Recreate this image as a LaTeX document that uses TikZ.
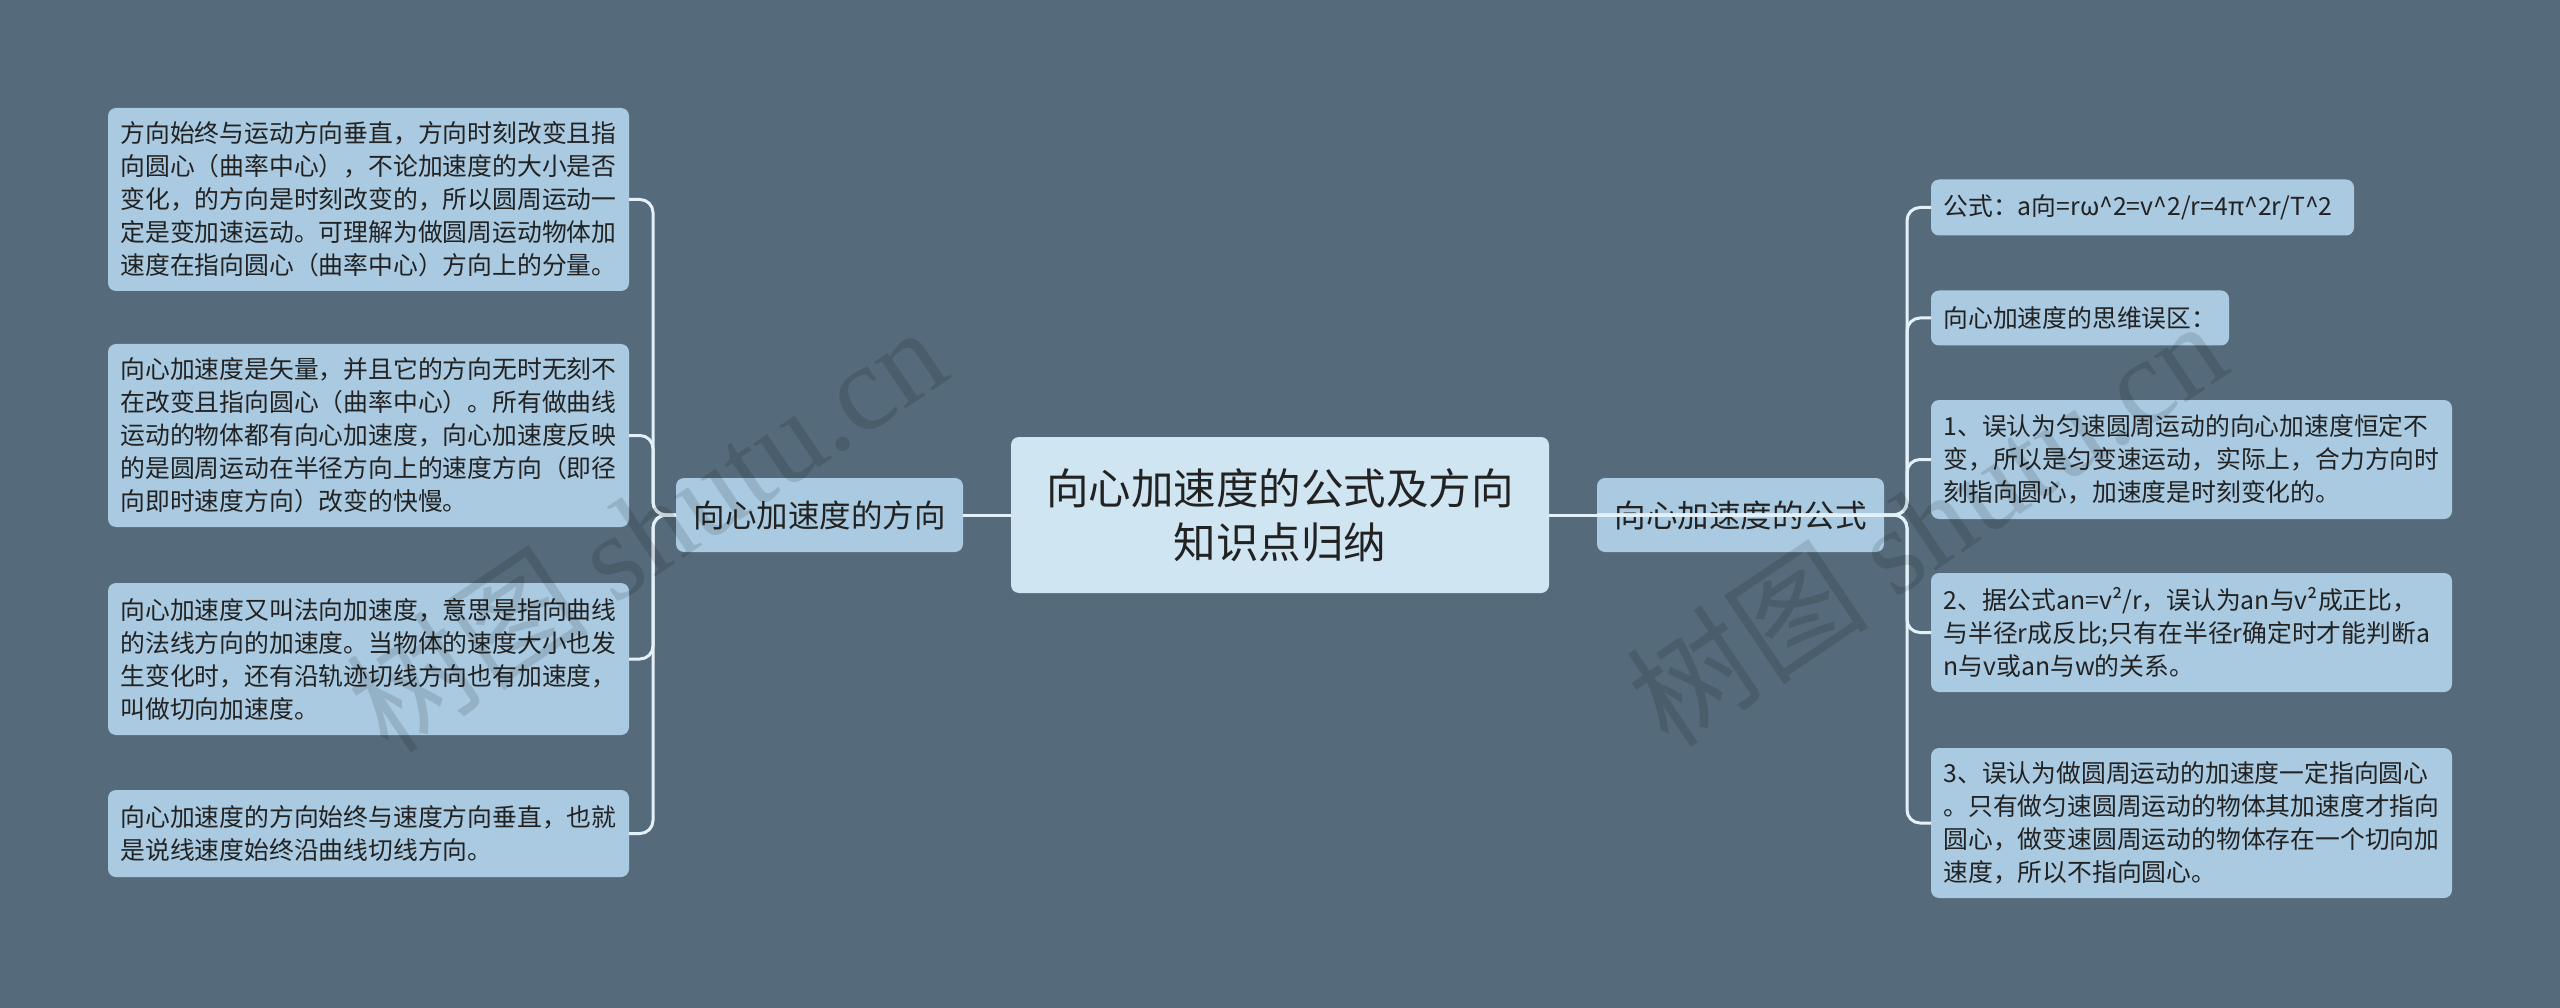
\documentclass[tikz,border=0pt]{standalone}
\usepackage{fontspec}
\setmainfont{Noto Sans CJK SC}
\newfontfamily\wmserif{Liberation Serif}
\definecolor{bgc}{HTML}{556A7A}
\definecolor{leafc}{HTML}{AACAE1}
\definecolor{centerc}{HTML}{CFE5F2}
\definecolor{linec}{HTML}{E4F1F8}
\definecolor{txtc}{HTML}{222222}
\begin{document}
\begin{tikzpicture}[x=1pt,y=-1pt,
  box/.style={rounded corners=8pt, outer sep=0pt, text=txtc},
  leaf/.style={box, fill=leafc, inner xsep=12.5pt, inner ysep=0pt, align=left, anchor=west, font=\fontsize{24.8}{33}\selectfont},
  mainbox/.style={box, fill=centerc, align=center, inner sep=0pt, minimum width=538pt, minimum height=156pt, font=\fontsize{42.5}{54}\selectfont},
  lvl/.style={box, fill=leafc, inner sep=0pt, minimum width=287pt, minimum height=74pt, font=\fontsize{31.5}{38}\selectfont},
  conn/.style={draw=linec, line width=3pt, rounded corners=13pt},
  wm/.style={text=black, opacity=0.12, rotate=34, font=\fontsize{122}{130}\selectfont}
]
\useasboundingbox (0,0) rectangle (2560,1008);
\fill[bgc] (0,0) rectangle (2560,1008);

% central and level-1 nodes
\node[mainbox] (cn) at (1280,515) {向心加速度的公式及方向\\知识点归纳};
\node[lvl] (lb) at (819.5,515) {向心加速度的方向};
\node[lvl] (rb) at (1740.5,515) {向心加速度的公式};

% left leaves
\node[leaf, text width=496pt, minimum height=183pt] (l1) at (108,199.5)
 {方向始终与运动方向垂直，方向时刻改变且指\\向圆心（曲率中心），不论加速度的大小是否\\变化，的方向是时刻改变的，所以圆周运动一\\定是变加速运动。可理解为做圆周运动物体加\\速度在指向圆心（曲率中心）方向上的分量。};
\node[leaf, text width=496pt, minimum height=183pt] (l2) at (108,435.5)
 {向心加速度是矢量，并且它的方向无时无刻不\\在改变且指向圆心（曲率中心）。所有做曲线\\运动的物体都有向心加速度，向心加速度反映\\的是圆周运动在半径方向上的速度方向（即径\\向即时速度方向）改变的快慢。};
\node[leaf, text width=496pt, minimum height=152pt] (l3) at (108,659)
 {向心加速度又叫法向加速度，意思是指向曲线\\的法线方向的加速度。当物体的速度大小也发\\生变化时，还有沿轨迹切线方向也有加速度，\\叫做切向加速度。};
\node[leaf, text width=496pt, minimum height=87pt] (l4) at (108,833.5)
 {向心加速度的方向始终与速度方向垂直，也就\\是说线速度始终沿曲线切线方向。};

% right leaves
\node[leaf, text width=398pt, minimum height=56pt] (r1) at (1931,207.5)
 {公式：a向=rω\^{}2=v\^{}2/r=4π\^{}2r/T\^{}2};
\node[leaf, text width=273pt, minimum height=55pt] (r2) at (1931,318)
 {向心加速度的思维误区：};
\node[leaf, text width=496pt, minimum height=119pt] (r3) at (1931,459.5)
 {1、误认为匀速圆周运动的向心加速度恒定不\\变，所以是匀变速运动，实际上，合力方向时\\刻指向圆心，加速度是时刻变化的。};
\node[leaf, text width=496pt, minimum height=119pt] (r4) at (1931,632.5)
 {2、据公式an=v²/r，误认为an与v²成正比，\\与半径r成反比;只有在半径r确定时才能判断a\\n与v或an与w的关系。};
\node[leaf, text width=496pt, minimum height=150pt] (r5) at (1931,823)
 {3、误认为做圆周运动的加速度一定指向圆心\\。只有做匀速圆周运动的物体其加速度才指向\\圆心，做变速圆周运动的物体存在一个切向加\\速度，所以不指向圆心。};

% connectors
\draw[conn] (cn.west) -- (lb.east);
\draw[conn] (cn.east) -- (rb.west);
\foreach \n in {l1,l2,l3,l4}
  \draw[conn] (lb.west) -- ([xshift=-23pt]lb.west) |- (\n.east);
\foreach \n in {r1,r2,r3,r4,r5}
  \draw[conn] (rb.west) -- ([xshift=23pt]rb.east) |- (\n.west);

% watermark
\node[wm] (wm1) at (646,528) {树图 {\wmserif shutu.cn}};
\node[wm] (wm2) at (1926,522) {树图 {\wmserif shutu.cn}};
\end{tikzpicture}
\end{document}
